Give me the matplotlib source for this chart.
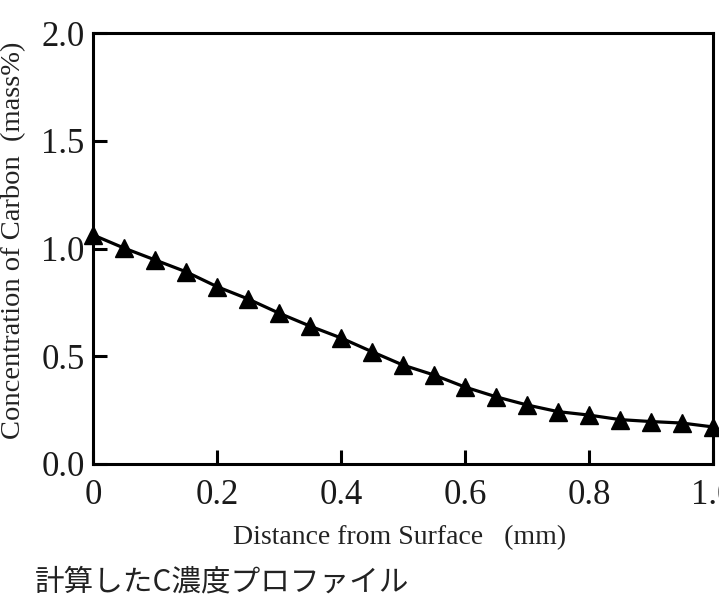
import matplotlib
matplotlib.use("Agg")
import matplotlib.pyplot as plt
import numpy as np

# Data
distance_mm = [0.00, 0.05, 0.10, 0.15, 0.20, 0.25, 0.30, 0.35, 0.40, 0.45, 0.50,
               0.55, 0.60, 0.65, 0.70, 0.75, 0.80, 0.85, 0.90, 0.95, 1.00]
carbon_mass_pct = [1.063, 1.002, 0.947, 0.892, 0.823, 0.766, 0.700, 0.640, 0.585, 0.521, 0.459,
                   0.413, 0.357, 0.312, 0.274, 0.243, 0.227, 0.206, 0.197, 0.190, 0.172]
x_ticks = [0, 0.2, 0.4, 0.6, 0.8, 1.0]
x_tick_labels = ["0", "0.2", "0.4", "0.6", "0.8", "1.0"]
y_ticks = [0.0, 0.5, 1.0, 1.5, 2.0]
y_tick_labels = ["0.0", "0.5", "1.0", "1.5", "2.0"]
x_label = "Distance from Surface   (mm)"
y_label = "Concentration of Carbon  (mass%)"
caption = "計算したC濃度プロファイル"

W, H = 719, 598
fig = plt.figure(figsize=(W / 100, H / 100), dpi=100)
L, R, T, B = 93, 713, 33, 464
ax = fig.add_axes([L / W, 1 - B / H, (R - L) / W, (B - T) / H])

ax.plot(distance_mm, carbon_mass_pct, color="black", lw=2.3, marker="^",
        markersize=13, markerfacecolor="black", markeredgecolor="black",
        clip_on=False, zorder=3)

ax.set_xlim(0, 1.0)
ax.set_ylim(0, 2.0)
ax.set_xticks(x_ticks)
ax.set_xticklabels(x_tick_labels)
ax.set_yticks(y_ticks)
ax.set_yticklabels(y_tick_labels)

serif = "Liberation Serif"
for lab in ax.get_xticklabels() + ax.get_yticklabels():
    lab.set_fontfamily(serif)
    lab.set_fontsize(25)
    lab.set_color("#1a1a1a")

ax.tick_params(axis="both", direction="in", length=10, width=2.2, color="black")
ax.tick_params(axis="x", pad=11)
ax.tick_params(axis="y", pad=6)
for s in ax.spines.values():
    s.set_linewidth(2.2)
    s.set_color("black")

fig.text(400 / W, 1 - 538 / H, x_label, ha="center", va="center",
         fontsize=20, family=serif, color="#222222")
fig.text(14 / W, 1 - 240 / H, y_label, ha="center", va="center", rotation=90,
         fontsize=20.5, family=serif, color="#222222")
fig.text(35 / W, 1 - 582 / H, caption, ha="left", va="center",
         fontsize=21.3, family=["Noto Sans CJK JP", "DejaVu Sans"], color="#222222")

fig.savefig("out.png", dpi=100)
